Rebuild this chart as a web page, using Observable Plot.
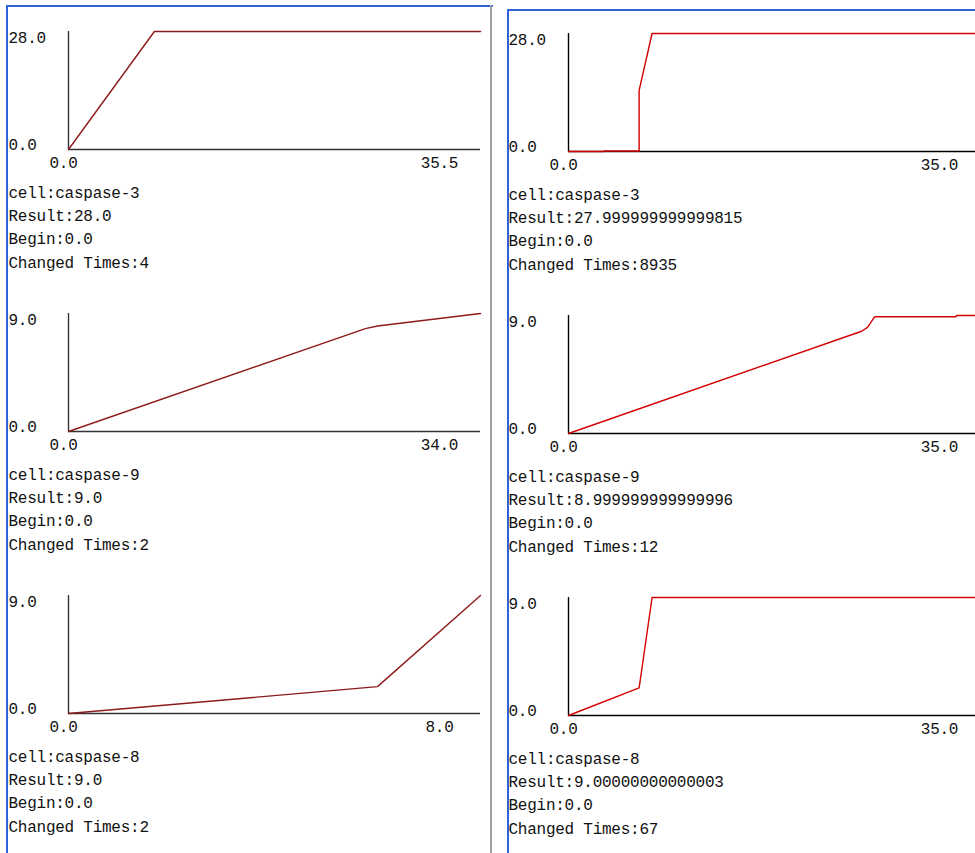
<!DOCTYPE html>
<html>
<head>
<meta charset="utf-8">
<script src="https://cdn.jsdelivr.net/npm/d3@7"></script>
<script src="https://cdn.jsdelivr.net/npm/@observablehq/plot@0.6"></script>
<style>
  html, body { margin: 0; padding: 0; background: #fff; overflow: hidden; }
  #stage { position: relative; width: 975px; height: 853px; overflow: hidden; background: #fff; }
  .chart { position: absolute; }
  .chart text { letter-spacing: -0.25px; }
  .bar { position: absolute; }
</style>
</head>
<body>
<div id="stage"></div>
<script>
// ---- Data ----
// Left window (coarse run)
const leftC3X = [0, 7.4, 35.5];
const leftC3Y = [0, 28, 28];
const leftC9X = [0, 24.5, 25.5, 34];
const leftC9Y = [0, 7.85, 8.05, 9];
const leftC8X = [0, 6.0, 8.0];
const leftC8Y = [0, 2.05, 9];

// Right window (fine run)
const rightC3X = [0, 3.0, 3.0, 6.0, 6.0, 7.1, 35];
const rightC3Y = [0, 0, 0.12, 0.12, 14.5, 28, 28];
const rightC9X = [0, 24.9, 25.4, 26.0, 32.9, 33.0, 35];
const rightC9Y = [0, 7.8, 8.1, 8.9, 8.9, 9.0, 9.0];
const rightC8X = [0, 6.0, 7.1, 35];
const rightC8Y = [0, 2.1, 9, 9];

const leftXMax = [35.5, 34.0, 8.0];
const rightXMax = [35.0, 35.0, 35.0];
const yMaxes = [28.0, 9.0, 9.0];

const cellNames = ["caspase-3", "caspase-9", "caspase-8"];
const leftResults = ["28.0", "9.0", "9.0"];
const rightResults = ["27.999999999999815", "8.999999999999996", "9.00000000000003"];
const begins = ["0.0", "0.0", "0.0"];
const leftChanged = [4, 2, 2];
const rightChanged = [8935, 12, 67];

// ---- Drawing ----
const FONT = "'Liberation Mono', 'DejaVu Sans Mono', monospace";

function makeChart(xs, ys, xmax, ymax, color, axisColor, lines) {
  const data = xs.map((x, i) => ({x, y: ys[i]}));
  const infoMarks = lines.map((t, i) =>
    Plot.text([t], {frameAnchor: "bottom-left", dx: -60, dy: 48 + i * 23.4,
      textAnchor: "start", text: d => d, fill: "#111"}));
  return Plot.plot({
    width: 490,
    height: 282,
    marginLeft: 68,
    marginRight: 10,
    marginTop: 31,
    marginBottom: 133,
    x: {domain: [0, xmax], axis: null},
    y: {domain: [0, ymax], axis: null},
    style: {fontFamily: FONT, fontSize: "16px", background: "transparent", overflow: "visible"},
    marks: [
      Plot.ruleX([0], {stroke: axisColor, strokeWidth: 1.4}),
      Plot.ruleY([0], {stroke: axisColor, strokeWidth: 1.4}),
      Plot.line(data, {x: "x", y: "y", stroke: color, strokeWidth: 1.4}),
      Plot.text([ymax], {y: d => d, frameAnchor: "left", dx: -60, dy: 0, textAnchor: "start",
        lineAnchor: "top", text: d => d.toFixed(1), fill: "#111"}),
      Plot.text([0], {y: d => d, frameAnchor: "left", dx: -60, textAnchor: "start",
        lineAnchor: "bottom", text: d => d.toFixed(1), fill: "#111"}),
      Plot.text([0], {x: d => d, frameAnchor: "bottom", dx: -5, dy: 18,
        text: d => d.toFixed(1), fill: "#111"}),
      Plot.text([xmax], {x: d => d, frameAnchor: "bottom", dx: -41, dy: 18,
        text: d => d.toFixed(1), fill: "#111"}),
      ...infoMarks
    ]
  });
}

const stage = document.getElementById("stage");
function place(node, left, top) {
  node.classList.add("chart");
  node.style.left = left + "px";
  node.style.top = top + "px";
  stage.appendChild(node);
}
function bar(left, top, w, h, color) {
  const d = document.createElement("div");
  d.className = "bar";
  Object.assign(d.style, {left: left + "px", top: top + "px", width: w + "px", height: h + "px", background: color});
  stage.appendChild(d);
}

const leftSeries = [[leftC3X, leftC3Y], [leftC9X, leftC9Y], [leftC8X, leftC8Y]];
const rightSeries = [[rightC3X, rightC3Y], [rightC9X, rightC9Y], [rightC8X, rightC8Y]];

for (let k = 0; k < 3; ++k) {
  const leftLines = ["cell:" + cellNames[k], "Result:" + leftResults[k], "Begin:" + begins[k], "Changed Times:" + leftChanged[k]];
  const rightLines = ["cell:" + cellNames[k], "Result:" + rightResults[k], "Begin:" + begins[k], "Changed Times:" + rightChanged[k]];
  place(makeChart(leftSeries[k][0], leftSeries[k][1], leftXMax[k], yMaxes[k], "#8e1b1b", "#333", leftLines), 0, 282 * k);
  place(makeChart(rightSeries[k][0], rightSeries[k][1], rightXMax[k], yMaxes[k], "#d40000", "#000", rightLines), 500, 282 * k + 2);
}

// window borders
bar(6, 5, 487, 2, "#2f62d8");
bar(6, 5, 2, 848, "#2f62d8");
bar(490, 5, 2, 848, "#a0a0a0");
bar(507, 9, 468, 2, "#2f62d8");
bar(507, 9, 2, 844, "#2f62d8");
</script>
</body>
</html>
